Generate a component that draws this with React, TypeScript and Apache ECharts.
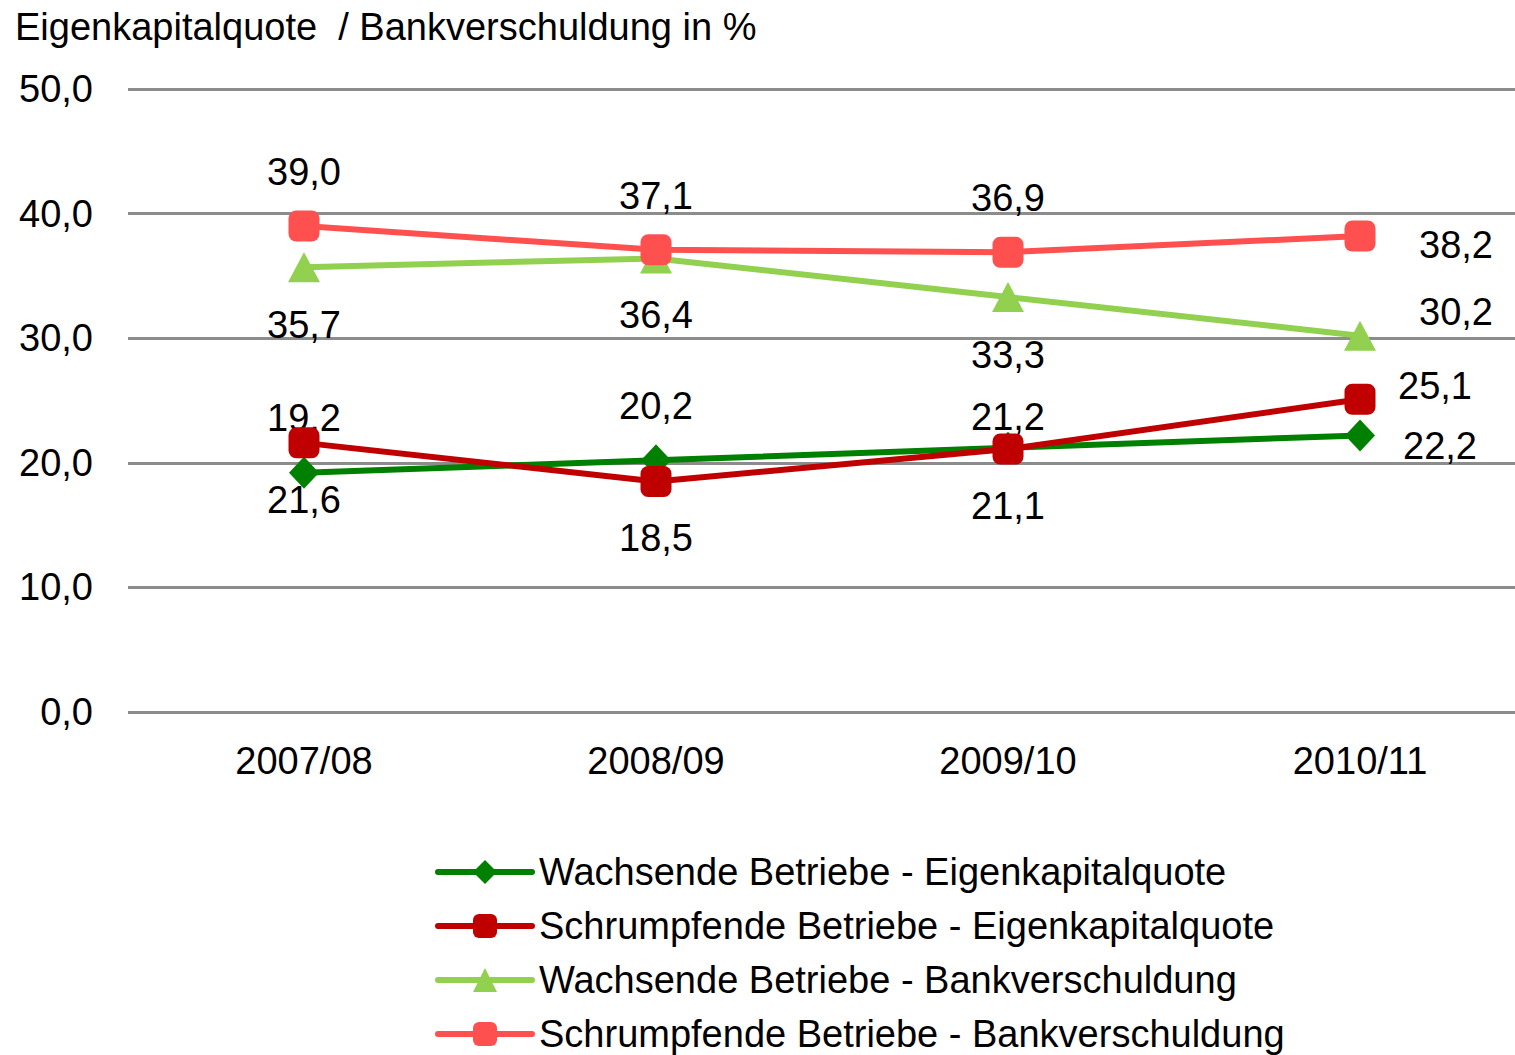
import React, { useEffect, useRef } from "react";
import * as echarts from "echarts";

const categories = ["2007/08", "2008/09", "2009/10", "2010/11"];
const seriesNames = [
  "Wachsende Betriebe - Eigenkapitalquote",
  "Schrumpfende Betriebe - Eigenkapitalquote",
  "Wachsende Betriebe - Bankverschuldung",
  "Schrumpfende Betriebe - Bankverschuldung",
];
const wachsendEK = [19.2, 20.2, 21.2, 22.2];
const schrumpfEK = [21.6, 18.5, 21.1, 25.1];
const wachsendBank = [35.7, 36.4, 33.3, 30.2];
const schrumpfBank = [39.0, 37.1, 36.9, 38.2];

const colors = ["#008000", "#C00000", "#92D050", "#FF5050"];
const symbols = ["diamond", "roundRect", "triangle", "roundRect"];
const symbolSizes: any[] = [[30, 32], 31, [32, 30], 31];
// label offsets per series per point (dx, dy)
const labelOffsets: number[][][] = [
  [[0, -55], [0, -54], [0, -31], [80, 11]],
  [[0, 57], [0, 57], [0, 57], [75, -13]],
  [[0, 58], [0, 57], [0, 58], [96, -24]],
  [[0, -54], [0, -54], [0, -54], [96, 9]],
];

const fmt = (v: number) => v.toFixed(1).replace(".", ",");

export default function App() {
  const ref = useRef<HTMLDivElement>(null);
  useEffect(() => {
    document.body.style.margin = "0";
    const chart = echarts.init(ref.current!, undefined, { renderer: "svg" });
    const font = "'Liberation Sans', Arial, sans-serif";
    const fs = 38;
    const dataSets = [wachsendEK, schrumpfEK, wachsendBank, schrumpfBank];
    chart.setOption({
      animation: false,
      textStyle: { fontFamily: font },
      title: {
        text: "Eigenkapitalquote  / Bankverschuldung in %",
        left: 15,
        top: 8,
        padding: 0,
        textStyle: { fontFamily: font, fontSize: fs, fontWeight: "normal", color: "#000" },
      },
      grid: { left: 128, top: 89, width: 1408, height: 623 },
      xAxis: {
        type: "category",
        data: categories,
        boundaryGap: true,
        axisLine: { show: false },
        axisTick: { show: false },
        axisLabel: { fontFamily: font, fontSize: fs, color: "#000", margin: 30 },
      },
      yAxis: {
        type: "value",
        min: 0,
        max: 50,
        interval: 10,
        axisLine: { show: false },
        axisTick: { show: false },
        axisLabel: {
          fontFamily: font,
          fontSize: fs,
          color: "#000",
          margin: 35,
          formatter: (v: number) => fmt(v),
        },
        splitLine: { lineStyle: { color: "#8c8c8c", width: 3 } },
      },
      legend: {
        orient: "vertical",
        left: 435,
        top: 852,
        padding: 0,
        itemWidth: 94,
        itemHeight: 30,
        itemGap: 14,
        data: seriesNames,
        lineStyle: { width: 6, cap: "round" },
        textStyle: {
          fontFamily: font,
          fontSize: fs,
          color: "#000",
          lineHeight: 40,
          padding: [0, 0, 0, 2],
        },
      },
      series: seriesNames.map((name, i) => ({
        name,
        type: "line",
        data: dataSets[i].map((v, j) => ({
          value: v,
          label: { offset: labelOffsets[i][j] },
        })),
        symbol: symbols[i],
        symbolSize: symbolSizes[i],
        lineStyle: { color: colors[i], width: 6 },
        itemStyle: { color: colors[i] },
        z: 2 + i,
        label: {
          show: true,
          position: "inside",
          fontFamily: font,
          fontSize: fs,
          color: "#000",
          formatter: (p: any) => fmt(p.value),
        },
      })),
    });
    return () => chart.dispose();
  }, []);
  return (
    <div style={{ width: 1515, height: 1055, overflow: "hidden", position: "relative" }}>
      <div ref={ref} style={{ width: 1545, height: 1085 }} />
    </div>
  );
}
